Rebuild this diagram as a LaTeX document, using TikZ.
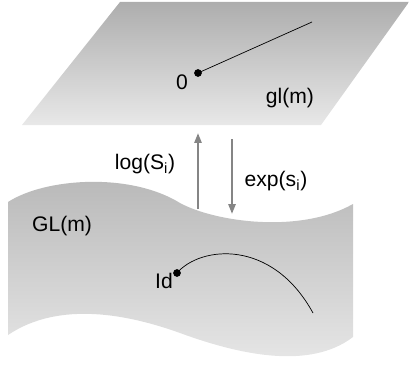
\documentclass[tikz,border=0pt]{standalone}
\usepackage{fontspec}
\setmainfont{Liberation Sans}
\usetikzlibrary{arrows.meta}

\begin{document}
\begin{tikzpicture}[x=0.025cm, y=-0.025cm, font=\fontsize{15}{18}\selectfont,
    dot/.style={circle, fill=black, inner sep=0pt, minimum size=5.5pt},
    lbl/.style={inner sep=0pt},
    maparrow/.style={draw=cArr, line width=1.6pt, -{Triangle[length=7pt, width=5pt]}}]
\definecolor{cPlaneT}{gray}{0.68}
\definecolor{cPlaneB}{gray}{0.91}
\definecolor{cSurfT}{gray}{0.72}
\definecolor{cSurfB}{gray}{0.91}
\definecolor{cArr}{gray}{0.52}
\useasboundingbox (0,0) rectangle (409,368);

% tangent space
\shade[top color=cPlaneT, bottom color=cPlaneB]
    (120,2) -- (409,2) -- (321,125) -- (22,125) -- cycle;
\node[dot] (zero) at (198,73) {};
\coordinate (tip) at (312,22);
\draw[line width=0.5pt] (zero.center) -- (tip);
\node[lbl] (zerolbl) at (182,82) {0};
\node[lbl] (gl) at (290,98) {gl(m)};

% maps
\coordinate (logA) at (198,209);
\coordinate (logB) at (198,133);
\coordinate (expA) at (232,139);
\coordinate (expB) at (232,214);
\draw[maparrow] (logA) -- (logB);
\draw[maparrow] (expA) -- (expB);
\node[lbl] (log) at (145,164) {log(S\textsubscript{i})};
\node[lbl] (exp) at (276,181) {exp(s\textsubscript{i})};

% group
\shade[top color=cSurfT, bottom color=cSurfB]
    (8,202) .. controls (45,178) and (130,172) .. (180,203)
    .. controls (215,222) and (300,234) .. (353,204)
    -- (353,337)
    .. controls (310,370) and (240,355) .. (180,333)
    .. controls (130,315) and (60,300) .. (8,335) -- cycle;
\node[lbl] (GL) at (62,226) {GL(m)};
\node[dot] (id) at (177,273) {};
\coordinate (end) at (313,313);
\draw[line width=0.5pt] (id.center) .. controls (200,246) and (272,238) .. (end);
\node[lbl] (idlbl) at (164,281) {Id};
\end{tikzpicture}
\end{document}
